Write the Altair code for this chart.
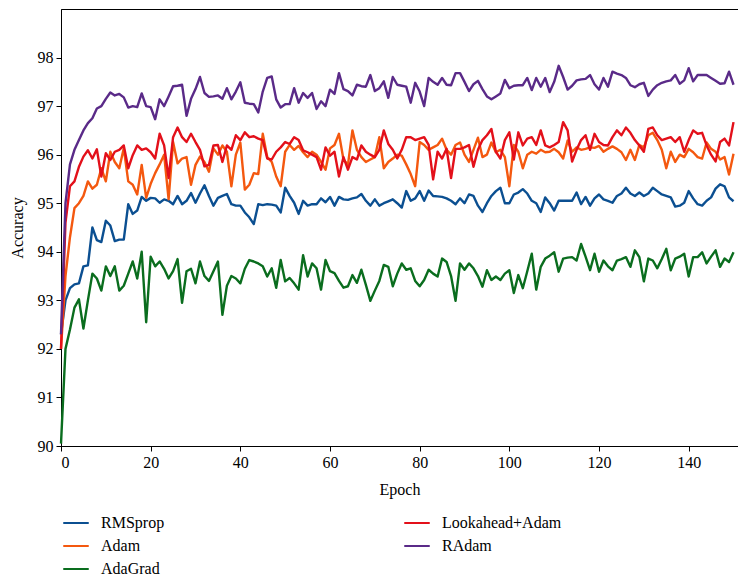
import altair as alt
import pandas as pd

names = ["RMSprop", "Adam", "AdaGrad", "Lookahead+Adam", "RAdam"]
colors = ["#0b4f91", "#f4580f", "#0a6d1e", "#e3101a", "#5a2a88"]
x_ticks = [0, 20, 40, 60, 80, 100, 120, 140]
y_ticks = [90, 91, 92, 93, 94, 95, 96, 97, 98]

rmsprop = [
    92.3, 93.0, 93.25, 93.33, 93.35, 93.7, 93.72, 94.5, 94.24, 94.2,
    94.64, 94.54, 94.22, 94.25, 94.25, 94.98, 94.78, 94.85, 95.13, 95.05,
    95.11, 95.1, 95.01, 95.08, 95.05, 94.98, 95.15, 94.98, 95.05, 95.21,
    95.01, 95.2, 95.37, 95.15, 94.95, 95.11, 95.15, 95.19, 94.98, 94.95,
    94.95, 94.81, 94.71, 94.57, 94.98, 94.96, 94.98, 94.97, 94.95, 94.81,
    95.32, 95.15, 95.01, 94.78, 95.05, 94.95, 94.98, 94.98, 95.1, 95.02,
    95.13, 94.95, 95.13, 95.08, 95.07, 95.1, 95.12, 95.19, 95.05, 94.95,
    95.08, 94.95, 95.0, 95.04, 95.08, 95.0, 94.91, 95.25, 95.05, 95.1,
    95.25, 95.05, 95.26, 95.15, 95.14, 95.13, 95.1, 95.05, 94.98, 95.1,
    95.0, 95.18, 95.15, 94.95, 94.82, 95.0, 95.15, 95.25, 95.32, 95.0,
    95.0, 95.18, 95.22, 95.29, 95.2, 95.05, 95.0, 94.82, 95.12, 95.0,
    94.85, 95.05, 95.05, 95.05, 95.05, 95.22, 94.98, 95.13, 94.95, 95.1,
    95.18, 95.08, 95.05, 95.01, 95.15, 95.2, 95.32, 95.2, 95.15, 95.22,
    95.15, 95.2, 95.32, 95.25, 95.18, 95.15, 95.12, 94.93, 94.95, 95.01,
    95.25, 95.1, 94.98, 94.95, 95.05, 95.12, 95.3, 95.39, 95.35, 95.12, 95.04,
]

adam = [
    92.0, 93.5, 94.3, 94.9, 95.0, 95.15, 95.45, 95.3, 95.38, 95.72,
    95.45, 96.06, 95.85, 95.72, 96.13, 95.45, 95.38, 95.18, 95.79, 95.11,
    95.4, 95.62, 95.8, 96.0, 95.08, 96.26, 95.82, 95.92, 95.95, 95.38,
    95.79, 95.96, 95.85, 95.65, 96.13, 96.0, 96.19, 96.06, 95.35, 96.0,
    96.25, 95.28, 95.38, 95.62, 95.6, 96.43, 95.95, 95.85, 95.55, 95.35,
    96.06, 96.2, 96.1, 96.18, 96.05, 95.95, 96.06, 96.0, 95.85, 95.69,
    96.13, 96.2, 96.43, 95.9, 95.79, 96.5, 96.1, 95.95, 95.85, 95.9,
    95.95, 96.36, 95.72, 95.85, 95.92, 96.0, 95.98, 95.8, 95.6, 95.35,
    96.26, 96.2, 96.1, 96.15, 96.2, 96.33, 96.1, 96.0, 96.2, 96.25,
    96.0, 95.85, 96.1, 96.35, 95.95, 96.0, 96.25, 96.05, 96.1, 95.95,
    95.35, 96.2, 96.06, 95.72, 96.0, 96.06, 96.02, 96.1, 96.05, 96.06,
    96.12, 96.05, 95.92, 96.29, 96.06, 96.15, 96.1, 96.12, 96.15, 96.14,
    96.18, 96.06, 96.12, 96.17, 96.12, 96.05, 95.89, 96.1, 95.89, 96.2,
    96.15, 96.4, 96.45, 96.3, 96.1, 95.72, 96.06, 95.85, 96.0, 95.95,
    96.12, 96.05, 95.95, 95.92, 96.25, 96.12, 96.06, 95.9, 95.95, 95.59, 96.02,
]

adagrad = [
    90.05, 92.0, 92.4, 92.85, 93.02, 92.42, 93.0, 93.55, 93.45, 93.2,
    93.7, 93.5, 93.7, 93.2, 93.3, 93.55, 93.8, 93.45, 94.0, 92.55,
    93.9, 93.7, 93.8, 93.65, 93.45, 93.6, 93.85, 92.95, 93.6, 93.65,
    93.35, 93.8, 93.5, 93.4, 93.6, 93.8, 92.7, 93.3, 93.5, 93.45,
    93.35, 93.65, 93.83, 93.8, 93.76, 93.7, 93.49, 93.66, 93.26, 93.83,
    93.39, 93.46, 93.35, 93.22, 93.93, 93.49, 93.76, 93.66, 93.22, 93.83,
    93.6, 93.56, 93.4, 93.26, 93.29, 93.52, 93.36, 93.63, 93.32, 92.99,
    93.2, 93.4, 93.73, 93.69, 93.29, 93.55, 93.76, 93.63, 93.66, 93.4,
    93.29, 93.42, 93.63, 93.55, 93.49, 93.86, 93.79, 93.5, 92.99, 93.76,
    93.63, 93.76, 93.66, 93.5, 93.28, 93.62, 93.42, 93.49, 93.42, 93.55,
    93.62, 93.15, 93.52, 93.25, 93.6, 93.96, 93.22, 93.69, 93.86, 93.92,
    93.99, 93.59, 93.86, 93.88, 93.89, 93.82, 94.16, 93.9, 93.62, 93.96,
    93.59, 93.82, 93.7, 93.62, 93.82, 93.85, 93.89, 93.69, 94.03, 93.89,
    93.39, 93.86, 93.82, 93.66, 93.85, 94.06, 93.62, 93.86, 93.9, 93.96,
    93.49, 93.89, 93.89, 93.99, 93.76, 93.9, 94.03, 93.69, 93.86, 93.79, 93.99,
]

lookahead = [
    92.0, 94.6, 95.35, 95.45, 95.75, 95.96, 96.09, 95.92, 96.11, 95.55,
    96.03, 95.89, 96.06, 96.1, 96.19, 95.72, 95.99, 96.19, 96.1, 96.13,
    96.05, 95.92, 96.43, 96.19, 95.52, 96.36, 96.56, 96.36, 96.26, 96.43,
    96.26, 96.1, 95.76, 95.79, 96.19, 96.2, 95.85, 96.19, 96.1, 96.4,
    96.3, 96.46, 96.36, 96.38, 96.33, 96.3, 95.92, 95.9, 96.06, 96.15,
    96.26, 96.22, 96.36, 96.3, 96.09, 96.05, 96.0, 95.95, 95.69, 96.15,
    95.98, 96.06, 95.55, 95.95, 95.69, 95.95, 95.9, 96.19, 96.06, 96.0,
    95.95, 96.1, 96.5, 96.22, 96.1, 95.92, 96.1, 96.36, 96.36, 96.3,
    96.33, 96.36, 96.2, 95.49, 96.06, 95.92, 96.12, 95.52, 96.12, 96.12,
    96.15, 96.2, 95.75, 96.1, 96.3, 96.4, 96.53, 96.06, 95.92, 96.3,
    96.46, 95.9, 96.46, 96.19, 96.33, 96.36, 96.2, 96.5, 96.19, 96.15,
    96.2, 96.26, 96.67, 96.5, 95.86, 96.1, 96.3, 96.4, 96.1, 96.43,
    96.26, 96.2, 96.19, 96.36, 96.5, 96.4, 96.56, 96.45, 96.3, 96.19,
    96.06, 96.53, 96.56, 96.4, 96.3, 96.33, 96.36, 96.26, 96.36, 96.06,
    96.3, 96.5, 96.43, 96.45, 96.19, 96.0, 95.86, 96.26, 96.33, 96.19, 96.67,
]

radam = [
    92.3, 95.0, 95.8, 96.1, 96.3, 96.5, 96.65, 96.75, 96.95, 97.0,
    97.15, 97.28, 97.22, 97.25, 97.18, 96.97, 97.0, 96.98, 97.26, 97.0,
    96.98, 96.73, 97.14, 97.0, 97.2, 97.41, 97.42, 97.44, 96.8, 97.15,
    97.35, 97.6, 97.27, 97.19, 97.2, 97.22, 97.15, 97.37, 97.14, 97.3,
    97.49, 97.07, 97.05, 97.04, 96.87, 97.3, 97.58, 97.61, 97.14, 96.97,
    97.04, 97.04, 97.37, 97.07, 97.27, 97.17, 97.27, 96.94, 97.1, 97.0,
    97.34, 97.25, 97.68, 97.35, 97.31, 97.22, 97.44, 97.41, 97.4, 97.64,
    97.31, 97.37, 97.51, 97.17, 97.6, 97.44, 97.42, 97.4, 97.07, 97.48,
    97.3, 97.0, 97.58, 97.5, 97.44, 97.58, 97.44, 97.43, 97.68, 97.68,
    97.5, 97.31, 97.45, 97.52, 97.35, 97.2, 97.14, 97.2, 97.26, 97.54,
    97.37, 97.42, 97.43, 97.43, 97.58, 97.33, 97.58, 97.4, 97.58, 97.29,
    97.5, 97.83, 97.6, 97.34, 97.42, 97.53, 97.55, 97.56, 97.64, 97.45,
    97.34, 97.58, 97.4, 97.71, 97.67, 97.64, 97.58, 97.43, 97.39, 97.45,
    97.48, 97.21, 97.34, 97.43, 97.48, 97.51, 97.53, 97.64, 97.46, 97.53,
    97.78, 97.51, 97.64, 97.64, 97.64, 97.58, 97.52, 97.46, 97.47, 97.71, 97.44,
]

series = [rmsprop, adam, adagrad, lookahead, radam]
rows = []
for k, (name, vals) in enumerate(zip(names, series)):
    for i, v in enumerate(vals):
        rows.append({"Epoch": i, "Accuracy": v, "Optimizer": name, "k": k})
df = pd.DataFrame(rows)

FONT = "Liberation Serif"

chart = alt.Chart(df).mark_line(strokeWidth=2.4, strokeJoin="round").encode(
    x=alt.X("Epoch:Q",
            scale=alt.Scale(domain=[0, 151], nice=False, zero=False),
            axis=alt.Axis(values=x_ticks, title="Epoch", titlePadding=11, labelPadding=3)),
    y=alt.Y("Accuracy:Q",
            scale=alt.Scale(domain=[90, 99], nice=False, zero=False),
            axis=alt.Axis(values=y_ticks, title="Accuracy", titlePadding=12, labelPadding=3)),
    color=alt.Color("Optimizer:N",
                    scale=alt.Scale(domain=names, range=colors),
                    legend=alt.Legend(
                        title=None, orient="none", legendX=1, legendY=500,
                        columns=2, columnPadding=235, rowPadding=1,
                        symbolType="stroke", symbolSize=650, symbolStrokeWidth=2,
                        labelFont=FONT, labelFontSize=16, labelColor="black",
                        labelOffset=11)),
    order=alt.Order("k:Q"),
).properties(
    width=677, height=437,
    padding={"left": 1, "top": 1, "right": 0, "bottom": 0},
).configure_view(
    stroke="black", strokeWidth=1
).configure_axis(
    grid=False, domainColor="black", tickColor="black", tickSize=5,
    labelColor="black", labelFont=FONT, labelFontSize=16,
    titleColor="black", titleFont=FONT, titleFontSize=16, titleFontWeight="normal",
)

chart.save("out.html", embed_options={"renderer": "svg", "actions": False})
